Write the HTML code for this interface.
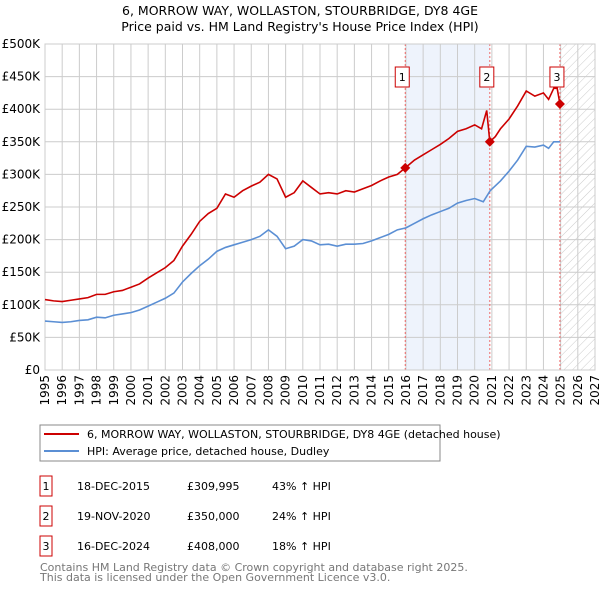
<!DOCTYPE html>
<html><head><meta charset="utf-8"><style>
body{margin:0;background:#fff;font-family:"Liberation Sans","DejaVu Sans",sans-serif;}
svg text{font-family:"DejaVu Sans","Liberation Sans",sans-serif;}
</style></head><body>
<svg id="chart" width="600" height="590" xmlns="http://www.w3.org/2000/svg">
<defs><pattern id="hatch" width="6" height="6" patternUnits="userSpaceOnUse" patternTransform="rotate(45)"><line x1="0" y1="0" x2="0" y2="6" stroke="#ccc" stroke-width="1"/></pattern></defs>
<text x="300" y="15" text-anchor="middle" font-size="12.5">6, MORROW WAY, WOLLASTON, STOURBRIDGE, DY8 4GE</text>
<text x="300" y="31" text-anchor="middle" font-size="12.5">Price paid vs. HM Land Registry's House Price Index (HPI)</text>
<g id="grid"></g><g id="series"></g><g id="marks"></g>
<rect x="40" y="425" width="400" height="36" fill="#fff" stroke="#888"/>
<line x1="44" y1="434" x2="79" y2="434" stroke="#cc0000" stroke-width="2"/>
<text x="87" y="438" font-size="11">6, MORROW WAY, WOLLASTON, STOURBRIDGE, DY8 4GE (detached house)</text>
<line x1="44" y1="451" x2="79" y2="451" stroke="#5b8fd4" stroke-width="2"/>
<text x="87" y="455" font-size="11">HPI: Average price, detached house, Dudley</text>
<g id="table" font-size="11"></g>
<text x="40" y="571" font-size="11" fill="#777">Contains HM Land Registry data © Crown copyright and database right 2025.</text>
<text x="40" y="581" font-size="11" fill="#777">This data is licensed under the Open Government Licence v3.0.</text>
</svg>
<script>
const yTicks=[0,50,100,150,200,250,300,350,400,450,500];
const yearTicks=[1995,1996,1997,1998,1999,2000,2001,2002,2003,2004,2005,2006,2007,2008,2009,2010,2011,2012,2013,2014,2015,2016,2017,2018,2019,2020,2021,2022,2023,2024,2025,2026,2027];
const hpiYears=[1995,1995.5,1996,1996.5,1997,1997.5,1998,1998.5,1999,1999.5,2000,2000.5,2001,2001.5,2002,2002.5,2003,2003.5,2004,2004.5,2005,2005.5,2006,2006.5,2007,2007.5,2008,2008.5,2009,2009.5,2010,2010.5,2011,2011.5,2012,2012.5,2013,2013.5,2014,2014.5,2015,2015.5,2016,2016.5,2017,2017.5,2018,2018.5,2019,2019.5,2020,2020.5,2020.9,2021.5,2022,2022.5,2023,2023.5,2024,2024.3,2024.6,2024.96];
const hpiValues=[75,74,73,74,76,77,81,80,84,86,88,92,98,104,110,118,135,148,160,170,182,188,192,196,200,205,215,205,186,190,200,198,192,193,190,193,193,194,198,203,208,215,218,225,232,238,243,248,256,260,263,258,275,290,305,322,343,342,345,340,350,350];
const propYears=[1995,1995.5,1996,1996.5,1997,1997.5,1998,1998.5,1999,1999.5,2000,2000.5,2001,2001.5,2002,2002.5,2003,2003.5,2004,2004.5,2005,2005.5,2006,2006.5,2007,2007.5,2008,2008.5,2009,2009.5,2010,2010.5,2011,2011.5,2012,2012.5,2013,2013.5,2014,2014.5,2015,2015.5,2015.96,2016.5,2017,2017.5,2018,2018.5,2019,2019.5,2020,2020.4,2020.7,2020.88,2021.2,2021.5,2022,2022.5,2023,2023.5,2024,2024.3,2024.6,2024.8,2024.96];
const propValues=[108,106,105,107,109,111,116,116,120,122,127,132,141,149,157,168,190,208,228,240,248,270,265,275,282,288,300,293,265,272,290,280,270,272,270,275,273,278,283,290,296,300,310,322,330,338,346,355,366,370,376,370,398,350,358,370,385,405,428,420,425,415,432,432,408];
const saleLabels=["1","2","3"];
const saleYears=[2015.96,2020.88,2024.96];
const salePrices=[309.995,350,408];
const saleDates=["18-DEC-2015","19-NOV-2020","16-DEC-2024"];
const salePriceText=["£309,995","£350,000","£408,000"];
const saleHpiText=["43% ↑ HPI","24% ↑ HPI","18% ↑ HPI"];

const NS="http://www.w3.org/2000/svg";
const X0=45,X1=595,Y0=370,Y1=44;
const x=y=>X0+(y-1995)/(2027-1995)*(X1-X0);
const yv=v=>Y0-v/500*(Y0-Y1);
function mk(tag,attrs,parent){const e=document.createElementNS(NS,tag);for(const k in attrs)e.setAttribute(k,attrs[k]);parent.appendChild(e);return e;}
const grid=document.getElementById('grid'),ser=document.getElementById('series'),marks=document.getElementById('marks'),tbl=document.getElementById('table');
let r=mk('rect',{x:x(saleYears[0]),y:Y1,width:x(saleYears[1])-x(saleYears[0]),height:Y0-Y1,fill:'#eef3fc'},grid);


r=mk('rect',{x:x(2025),y:Y1,width:X1-x(2025),height:Y0-Y1,fill:'url(#hatch)'},grid);


yTicks.forEach(v=>{
  mk('line',{x1:X0,x2:X1,y1:yv(v),y2:yv(v),stroke:'#ccc'},grid);
  const t=mk('text',{x:X0-5,y:yv(v)+4,'text-anchor':'end','font-size':'12'},grid);
  t.textContent=v===0?'£0':'£'+v+'K';
  
  
});
yearTicks.forEach(yr=>{
  mk('line',{x1:x(yr),x2:x(yr),y1:Y1,y2:Y0,stroke:'#ccc'},grid);
  const t=mk('text',{x:0,y:0,'text-anchor':'end','font-size':'12',transform:`translate(${x(yr)+4},${Y0+5}) rotate(-90)`},grid);
  t.textContent=yr;
  
  
});
saleYears.forEach(s=>{mk('line',{x1:x(s),x2:x(s),y1:Y1,y2:Y0,stroke:'#e66','stroke-dasharray':'2,2'},grid);});
let p=mk('polyline',{points:hpiYears.map((d,i)=>x(d)+','+yv(hpiValues[i])).join(' '),fill:'none',stroke:'#5b8fd4','stroke-width':1.6},ser);


p=mk('polyline',{points:propYears.map((d,i)=>x(d)+','+yv(propValues[i])).join(' '),fill:'none',stroke:'#cc0000','stroke-width':1.6},ser);


saleYears.forEach((s,i)=>{
  const cx=x(s),cy=yv(salePrices[i]);
  const d=mk('polygon',{points:`${cx},${cy-5} ${cx+5},${cy} ${cx},${cy+5} ${cx-5},${cy}`,fill:'#cc0000'},marks);
  
  
  const b=mk('rect',{x:cx-10,y:67,width:14,height:20,fill:'#fff',stroke:'#cc0000'},marks);
  
  
  const t=mk('text',{x:cx-3,y:81,'text-anchor':'middle','font-size':'11'},marks);
  t.textContent=saleLabels[i];
  const ry=476+i*30;
  const rb=mk('rect',{x:40,y:ry,width:12,height:20,fill:'#fff',stroke:'#cc0000'},tbl);
  
  
  const vals=[[46,saleLabels[i],'middle'],[77,saleDates[i],'start'],[187,salePriceText[i],'start'],[272,saleHpiText[i],'start']];
  vals.forEach(v=>{const tt=mk('text',{x:v[0],y:ry+14,'text-anchor':v[2]},tbl);tt.textContent=v[1];
    
    });
});
mk('rect',{x:X0,y:Y1,width:X1-X0,height:Y0-Y1,fill:'none',stroke:'#ccc'},grid);
</script>
</body></html>
